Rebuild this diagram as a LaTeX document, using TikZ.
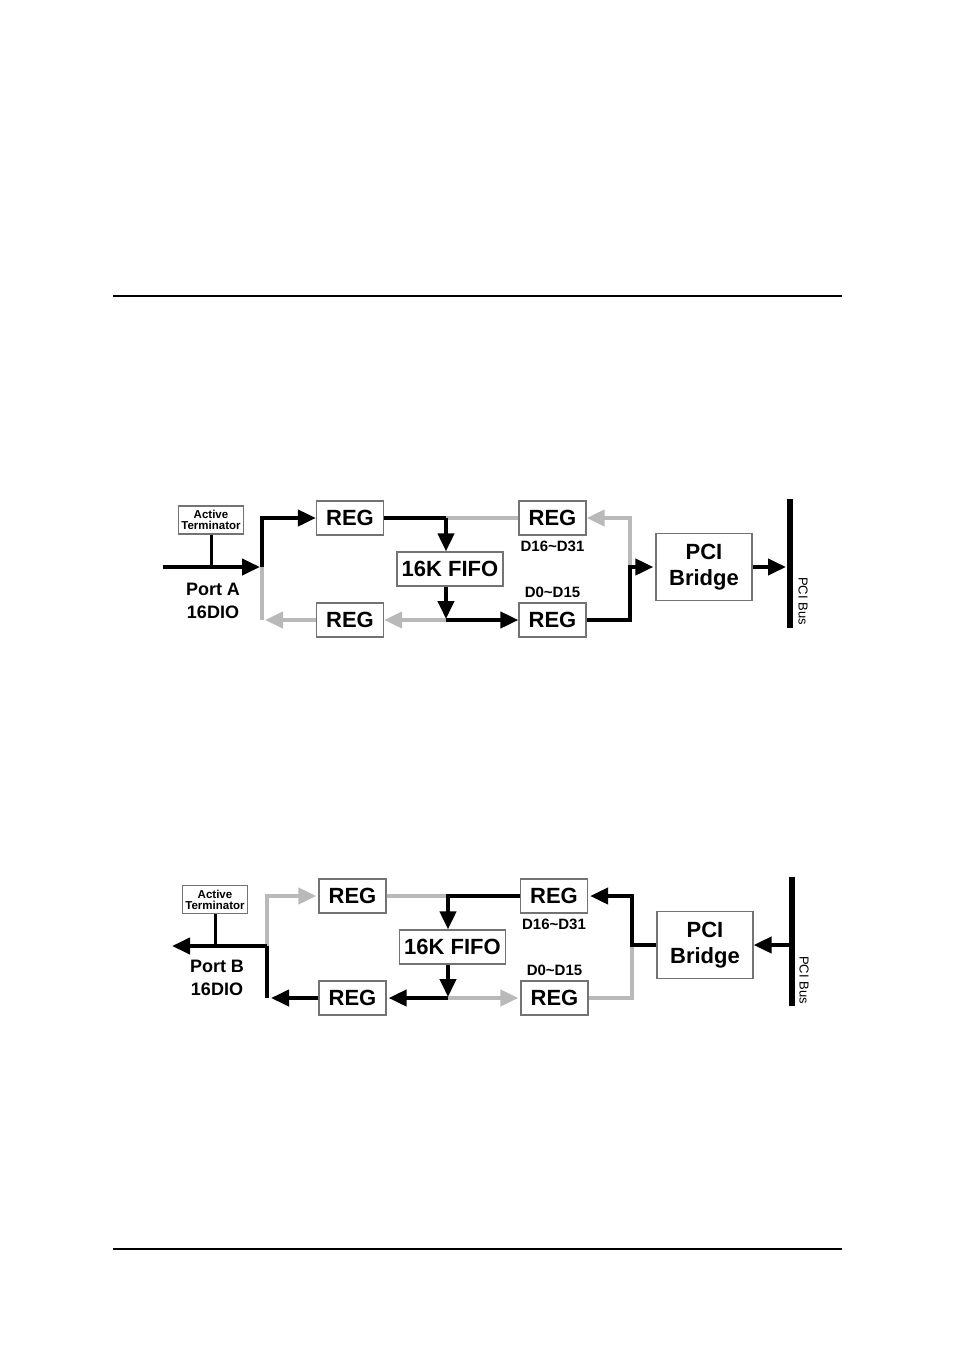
\documentclass[tikz,border=0pt]{standalone}
\usepackage{fontspec}
\setmainfont{Liberation Sans}
\usetikzlibrary{arrows.meta,positioning}
\definecolor{pathgray}{RGB}{185,185,185}
\definecolor{boxgray}{RGB}{115,115,115}
\tikzset{
	box/.style={draw=boxgray, line width=1.2pt, inner sep=0pt, align=center},
	reg/.style={box, minimum width=67pt, minimum height=34pt, font=\fontsize{22}{26}\selectfont\bfseries},
	fifo/.style={box, minimum width=106pt, minimum height=34pt, font=\fontsize{22}{26}\selectfont\bfseries},
	pci/.style={box, minimum width=96pt, minimum height=67pt, font=\fontsize{22}{26}\selectfont\bfseries},
	term/.style={box, minimum width=65pt, minimum height=28pt, font=\fontsize{11.5}{11}\selectfont\bfseries},
	lbl/.style={inner sep=1pt, font=\fontsize{15}{18}\selectfont\bfseries},
	port/.style={inner sep=0pt, align=center, font=\fontsize{18}{23}\selectfont\bfseries},
	buslbl/.style={inner sep=0pt, rotate=-90, font=\fontsize{13}{15}\selectfont},
	blk/.style={draw=black, line width=4pt},
	gry/.style={draw=pathgray, line width=4pt},
	arr/.style={-{Triangle[length=18pt,width=16pt]}},
	stem/.style={draw=black, line width=3pt},
	bus/.style={draw=black, line width=5.5pt},
	rule/.style={draw=black, line width=2pt}
}
\begin{document}
\begin{tikzpicture}[x=1pt, y=-1pt]
	\useasboundingbox (0,0) rectangle (954,1358);
	\draw[rule] (113,296) -- (842,296);
	\draw[rule] (113,1249) -- (842,1249);

	\node[term] (termA) at (211,520) {Active\\Terminator};
	\node[reg] (regA1) at (350,518) {REG};
	\node[reg] (regA2) at (350,620) {REG};
	\node[fifo] (fifoA) at (450,569) {16K FIFO};
	\node[reg] (regA3) at (552.5,518) {REG};
	\node[reg] (regA4) at (552.5,620) {REG};
	\node[pci] (pciA) at (704,567) {PCI\\Bridge};
	\node[lbl, below=4pt of regA3] (hiA) {D16\textasciitilde D31};
	\node[lbl, above=4pt of regA4] (loA) {D0\textasciitilde D15};
	\node[port] (portA) at (213,601) {Port A\\16DIO};
	\node[buslbl] (busA) at (803,601) {PCI Bus};
	\coordinate (inA) at (163,567);
	\coordinate (jA) at (262,567);
	\coordinate (fA) at (446,518);
	\coordinate (fB) at (446,620);
	\coordinate (kA) at (630,567);
	\coordinate (busAt) at (790,499);
	\coordinate (busAb) at (790,628);

	\draw[gry] (jA) -- (jA |- regA2.west);
	\draw[gry, arr, shorten >=3pt] (regA2.west) -- (jA |- regA2.west);
	\draw[gry] (fA) -- (regA3.west);
	\draw[gry, arr] (fB) -- (regA2.east);
	\draw[gry, arr] (kA) |- (regA3.east);
	\draw[stem] (termA.south) -- (termA.south |- jA);
	\draw[blk, arr, shorten >=2pt] (inA) -- (jA);
	\draw[blk, arr] (jA) |- (regA1.west);
	\draw[blk] (regA1.east) -- (fA);
	\draw[blk, arr] (fA) -- (fA |- fifoA.north);
	\draw[blk, arr, shorten >=1pt] (fifoA.south -| fA) -- (fB);
	\draw[blk, arr] (fB) -- (regA4.west);
	\draw[blk, arr, shorten >=2pt] (regA4.east) -| (kA) -- (pciA.west);
	\draw[blk, arr, shorten >=4pt] (pciA.east) -- (pciA.east -| busAt);
	\draw[bus] (busAt) -- (busAb);

	\node[term] (termB) at (215,899.5) {Active\\Terminator};
	\node[reg] (regB1) at (352.5,896) {REG};
	\node[reg] (regB2) at (352.5,998) {REG};
	\node[fifo] (fifoB) at (452.5,947) {16K FIFO};
	\node[reg] (regB3) at (554,896) {REG};
	\node[reg] (regB4) at (554.5,998) {REG};
	\node[pci] (pciB) at (705,945) {PCI\\Bridge};
	\node[lbl, below=4pt of regB3] (hiB) {D16\textasciitilde D31};
	\node[lbl, above=4pt of regB4] (loB) {D0\textasciitilde D15};
	\node[port] (portB) at (217,978) {Port B\\16DIO};
	\node[buslbl] (busB) at (804,980) {PCI Bus};
	\coordinate (outB) at (172,946);
	\coordinate (jB) at (267,946);
	\coordinate (fC) at (448,896);
	\coordinate (fD) at (448,998);
	\coordinate (kB) at (632,945);
	\coordinate (busBt) at (792,877);
	\coordinate (busBb) at (792,1006);

	\draw[gry, arr, shorten >=2pt] (jB) |- (regB1.west);
	\draw[gry] (regB1.east) -- (fC);
	\draw[gry, arr, shorten >=2pt] (fD) -- (regB4.west);
	\draw[gry] (kB) |- (regB4.east);
	\draw[stem] (termB.south) -- (termB.south |- jB);
	\draw[blk, arr] (jB) -- (outB);
	\draw[blk] (jB) -- (jB |- regB2.west);
	\draw[blk, arr, shorten >=4pt] (regB2.west) -- (jB |- regB2.west);
	\draw[blk, arr] (regB3.west) -- (fC) -- (fC |- fifoB.north);
	\draw[blk, arr, shorten >=1pt] (fifoB.south -| fC) -- (fD);
	\draw[blk, arr, shorten >=2pt] (fD) -- (regB2.east);
	\draw[blk, arr, shorten >=2pt] (pciB.west) -- (kB) |- (regB3.east);
	\draw[blk, arr] (pciB.east -| busBt) -- (pciB.east);
	\draw[bus] (busBt) -- (busBb);
\end{tikzpicture}
\end{document}
